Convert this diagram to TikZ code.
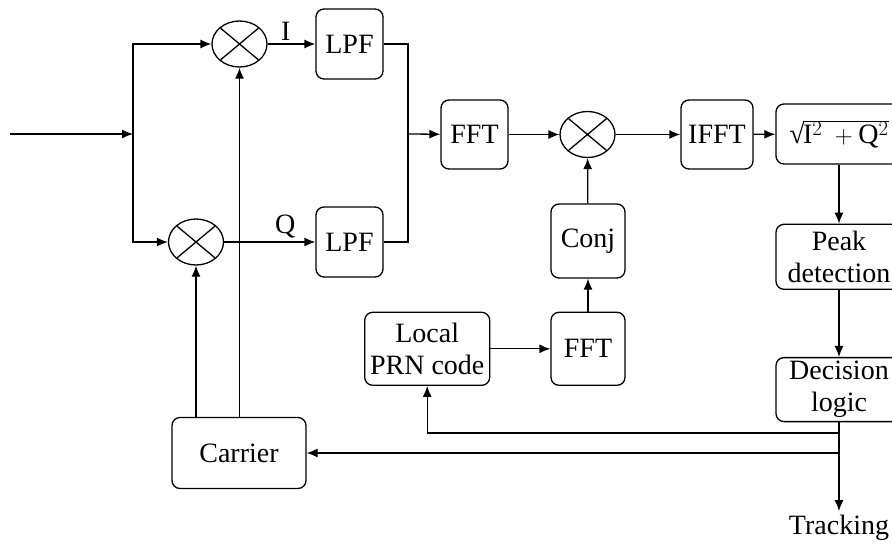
\documentclass[tikz,border=0pt]{standalone}
\usepackage{fontspec}
\setmainfont{Liberation Serif}
\usetikzlibrary{arrows.meta,positioning,shapes.geometric}
\tikzset{
  blk/.style={rectangle,rounded corners=8pt,draw,line width=1.3pt,align=center,inner sep=2pt},
  mix/.style={ellipse,draw,line width=1.3pt,minimum width=55pt,minimum height=46pt,inner sep=0pt,
    path picture={\draw[line width=1.3pt] (path picture bounding box.north west)--(path picture bounding box.south east)
      (path picture bounding box.north east)--(path picture bounding box.south west);}},
  arr/.style={-{Latex[length=11pt,width=9pt]},line width=1.3pt},
  ln/.style={line width=1.3pt}
}

\begin{document}
\begin{tikzpicture}[x=1pt,y=-1pt,font=\fontsize{28}{32}\selectfont]
\useasboundingbox (0,0) rectangle (892,544);
\node[mix] (mi) at (239.5,44) {};
\node[mix] (mq) at (196,242) {};
\node[blk,minimum width=67pt,minimum height=70pt] (li) at (349.5,44) {LPF};
\node[blk,minimum width=67pt,minimum height=70pt] (lq) at (349.5,242) {LPF};
\node[blk,minimum width=67pt,minimum height=69pt] (fa) at (474.5,134.5) {FFT};
\node[mix] (mc) at (587.5,134.5) {};
\node[blk,minimum width=72pt,minimum height=69pt] (ifft) at (717,134.5) {IFFT};
\node[blk,minimum width=126pt,minimum height=60pt] (sq) at (839,134) {√\kern-0.06em$\overline{\mathrm{I}^{2}\ +\mathrm{Q}^{2}}$};
\node[blk,minimum width=126pt,minimum height=65pt,below=59pt of sq] (pk) {Peak\\detection};
\node[blk,minimum width=126pt,minimum height=64pt,below=67pt of pk] (dec) {Decision\\logic};
\node[inner sep=4pt] (trk) at (839,528) {Tracking};
\node[blk,minimum width=74pt,minimum height=74pt] (cj) at (588,241) {Conj};
\node[blk,minimum width=74pt,minimum height=73pt,below=33pt of cj] (fb) {FFT};
\node[blk,minimum width=125pt,minimum height=73pt,left=60pt of fb] (loc) {Local\\PRN code};
\node[blk,minimum width=134pt,minimum height=71pt] (car) at (239,453) {Carrier};
\coordinate (in) at (10,134);
\coordinate (sp) at (133,134);
\coordinate (jn) at (408,134);
\coordinate (b1) at (839,433);
\coordinate (b2) at (839,453);
\draw[arr] (in) -- (sp);
\draw[arr] (sp) |- (mi);
\draw[arr] (sp) |- (mq);
\draw[arr] (mi) -- node[above,pos=0.38]{I} (li);
\draw[arr] (mq) -- node[above,pos=0.67]{Q} (lq);
\draw[ln] (li) -| (jn);
\draw[ln] (lq) -| (jn);
\draw[arr] (jn) -- (fa);
\draw[arr] (fa) -- (mc);
\draw[arr] (mc) -- (ifft);
\draw[arr] (ifft) -- (sq);
\draw[arr] (sq) -- (pk);
\draw[arr] (pk) -- (dec);
\draw[arr] (dec) -- (trk);
\draw[arr] (cj) -- (mc);
\draw[arr] (fb) -- (cj);
\draw[arr] (loc) -- (fb);
\draw[arr] (b1) -| (loc);
\draw[arr] (b2) -- (car);
\draw[arr] (car.north -| mq) -- (mq);
\draw[arr] (car.north -| mi) -- (mi);
\end{tikzpicture}
\end{document}
